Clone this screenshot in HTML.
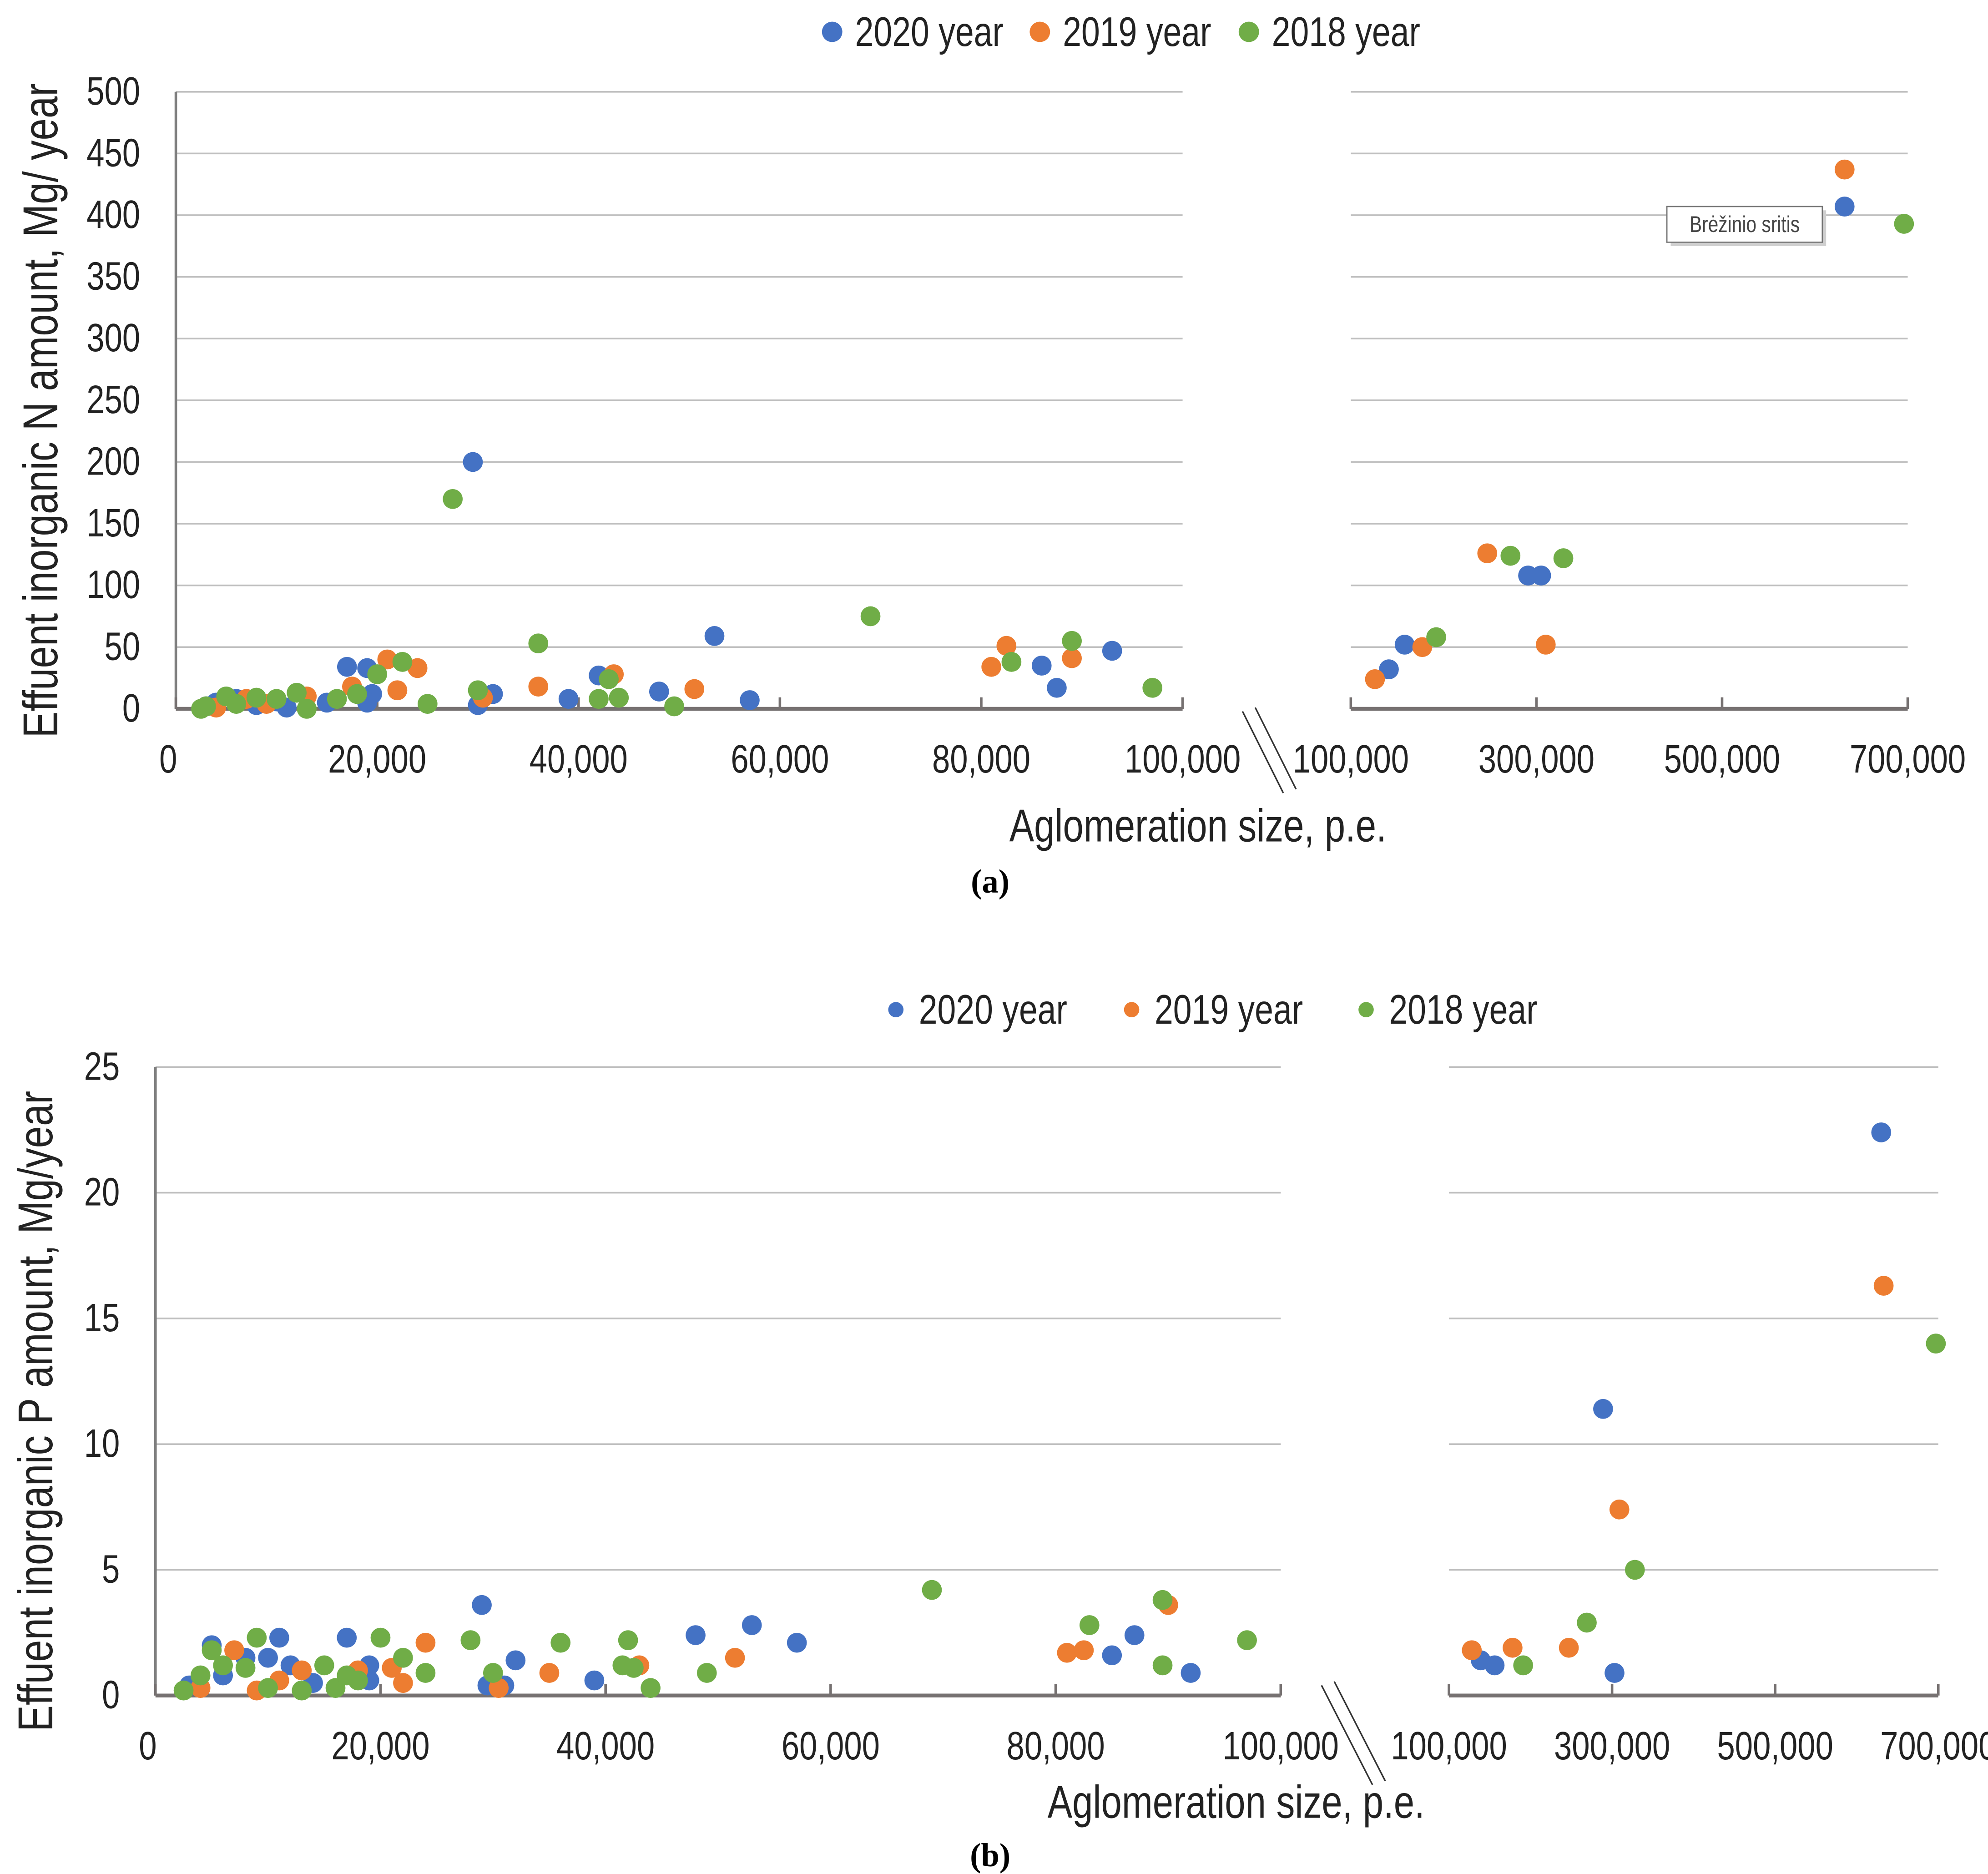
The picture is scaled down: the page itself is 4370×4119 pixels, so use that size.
<!DOCTYPE html>
<html><head><meta charset="utf-8"><style>html,body{margin:0;padding:0;background:#fff}svg{display:block}</style></head>
<body>
<svg id="chart" width="4370" height="4119" viewBox="0 0 1560 1470" preserveAspectRatio="none" xmlns="http://www.w3.org/2000/svg" font-family="'Liberation Sans', sans-serif"></svg>
<script>
// ---- data: panel (a) nitrogen, x in p.e., y in Mg/year ----
const nBlueX=[3000,4000,6000,8000,10000,11000,15000,17000,19000,19500,19000,29500,30000,31500,39000,42000,48000,53500,57000,86000,87500,93000,141000,158000,291000,305000,632000];
const nBlueY=[2,5,8,3,6,1,5,34,33,12,5,200,3,12,8,27,14,59,7,35,17,47,32,52,108,108,407];
const nOrangeX=[4000,7000,9000,13000,17500,21000,22000,24000,30500,36000,43500,51500,81000,82500,89000,126000,177000,247000,310000,632000];
const nOrangeY=[1,8,4,10,18,40,15,33,9,18,28,16,34,51,41,24,50,126,52,437];
const nGreenX=[2500,3000,5000,6000,8000,10000,12000,13000,16000,18000,20000,22500,25000,27500,30000,36000,42000,43000,44000,49500,69000,83000,89000,97000,192000,272000,329000,696000];
const nGreenY=[0,2,10,4,9,8,13,0,8,12,28,38,4,170,15,53,8,24,9,2,75,38,55,17,58,124,122,393];
// ---- data: panel (b) phosphorus ----
const pBlueX=[3000,5000,6000,8000,10000,11000,12000,14000,17000,19000,19000,29000,29500,31000,32000,39000,48000,53000,57000,85000,87000,92000,139000,156000,289000,303000,630000];
const pBlueY=[0.4,2.0,0.8,1.5,1.5,2.3,1.2,0.5,2.3,1.2,0.6,3.6,0.4,0.4,1.4,0.6,2.4,2.8,2.1,1.6,2.4,0.9,1.4,1.2,11.4,0.9,22.4];
const pOrangeX=[4000,7000,9000,11000,13000,18000,21000,22000,24000,30500,35000,43000,51500,81000,82500,90000,128000,178000,247000,309000,633000];
const pOrangeY=[0.3,1.8,0.2,0.6,1.0,1.0,1.1,0.5,2.1,0.3,0.9,1.2,1.5,1.7,1.8,3.6,1.8,1.9,1.9,7.4,16.3];
const pGreenX=[2500,4000,5000,6000,8000,9000,10000,13000,15000,16000,17000,18000,20000,22000,24000,28000,30000,36000,41500,42000,42500,44000,49000,69000,83000,89500,89500,97000,191000,269000,328000,697000];
const pGreenY=[0.2,0.8,1.8,1.2,1.1,2.3,0.3,0.2,1.2,0.3,0.8,0.6,2.3,1.5,0.9,2.2,0.9,2.1,1.2,2.2,1.1,0.3,0.9,4.2,2.8,3.8,1.2,2.2,1.2,2.9,5.0,14.0];
const leftTicks=[0,20000,40000,60000,80000,100000];
const leftTickLabels=["0","20,000","40,000","60,000","80,000","100,000"];
const rightTicks=[100000,300000,500000,700000];
const rightTickLabels=["100,000","300,000","500,000","700,000"];
const nYTicks=[0,50,100,150,200,250,300,350,400,450,500];
const pYTicks=[0,5,10,15,20,25];

const svg=document.getElementById('chart');
const NS='http://www.w3.org/2000/svg';
function mk(tag,attrs,parent){const e=document.createElementNS(NS,tag);for(const k in attrs)e.setAttribute(k,attrs[k]);(parent||svg).appendChild(e);return e;}
function txt(s,attrs,parent){const e=mk('text',attrs,parent);e.textContent=s;return e;}
function stxt(s,x,y,attrs,parent,rot){
  const a=Object.assign({x:0,y:0,transform:`translate(${x},${y})${rot?' rotate(-90)':''} scale(0.97,1.2)`},attrs);
  return txt(s,a,parent);
}
const COLORS=['#4472c4','#ed7d31','#70ad47'];
const NAMES=['2020 year','2019 year','2018 year'];

function panel(cfg){
  const g=mk('g',{});
  
  
  const yS=v=>cfg.y0+(cfg.yTop-cfg.y0)*v/cfg.yMax;
  const xL=v=>cfg.lx0+(cfg.lx1-cfg.lx0)*v/100000;
  const xR=v=>cfg.rx0+(cfg.rx1-cfg.rx0)*(v-100000)/600000;
  const xs=v=>v<=100000?xL(v):xR(v);
  cfg.yTicks.forEach((t,i)=>{
    if(i>0){
      const l1=mk('line',{x1:cfg.lx0,x2:cfg.lx1,y1:yS(t),y2:yS(t),stroke:'#bfbfbf','stroke-width':1.3},g);
      
      const l2=mk('line',{x1:cfg.rx0,x2:cfg.rx1,y1:yS(t),y2:yS(t),stroke:'#bfbfbf','stroke-width':1.3},g);
      
    }
    const tl=stxt(String(t),cfg.ylabX,yS(t)+10,{'text-anchor':'end','font-size':26,fill:'#222'},g);
    
  });
  const ya=mk('line',{x1:cfg.lx0,x2:cfg.lx0,y1:cfg.y0,y2:cfg.yTop,stroke:'#7f7f7f','stroke-width':2},g);
  
  const xa=mk('line',{x1:cfg.lx0,x2:cfg.lx1,y1:cfg.y0,y2:cfg.y0,stroke:'#767171','stroke-width':3},g);
  
  const xb=mk('line',{x1:cfg.rx0,x2:cfg.rx1,y1:cfg.y0,y2:cfg.y0,stroke:'#767171','stroke-width':3},g);
  
  leftTicks.forEach((t,i)=>{
    mk('line',{x1:xL(t),x2:xL(t),y1:cfg.y0,y2:cfg.y0-9,stroke:'#767171','stroke-width':2},g);
    const tl=stxt(leftTickLabels[i],xL(t)-(i==0?6:0),cfg.y0+50,{'text-anchor':'middle','font-size':26,fill:'#222'},g);
    
  });
  rightTicks.forEach((t,i)=>{
    mk('line',{x1:xR(t),x2:xR(t),y1:cfg.y0,y2:cfg.y0-9,stroke:'#767171','stroke-width':2},g);
    const tl=stxt(rightTickLabels[i],xR(t),cfg.y0+50,{'text-anchor':'middle','font-size':26,fill:'#222'},g);
    
  });
  const b=cfg.brk;
  mk('line',{x1:b[0],y1:b[1],x2:b[0]+b[2],y2:b[1]+b[3],stroke:'#333','stroke-width':1.2},g);
  mk('line',{x1:b[0]+10,y1:b[1]-3,x2:b[0]+10+b[2],y2:b[1]-3+b[3],stroke:'#333','stroke-width':1.2},g);
  cfg.series.forEach((s,si)=>{
    const sg=mk('g',{},g);
    
    
    s[0].forEach((xv,i)=>{
      const c=mk('circle',{cx:xs(xv),cy:yS(s[1][i]),r:7.8,fill:COLORS[si]},sg);
      
      
    });
  });
  cfg.legend.forEach((lx,i)=>{
    const lg=mk('g',{},g);
    
    
    mk('circle',{cx:lx,cy:cfg.legY,r:cfg.legR,fill:COLORS[i]},lg);
    stxt(NAMES[i],lx+18,cfg.legY+11,{'font-size':27,fill:'#222'},lg);
  });
  const yt=stxt(cfg.yTitle,cfg.yTitleX,cfg.yTitleY,{'text-anchor':'middle','font-size':32,fill:'#222'},g,true);
  
  const xt=stxt('Aglomeration size, p.e.',cfg.xTitleX,cfg.xTitleY,{'text-anchor':'middle','font-size':30,fill:'#222'},g);
  
  const cap=txt(cfg.cap,{x:777,y:cfg.capY,'text-anchor':'middle','font-size':26,'font-weight':'bold',fill:'#000','font-family':"'Liberation Serif', serif"},g);
  
  return {g,xs,yS};
}

panel({name:'panel-a-nitrogen',y0:556,yTop:72,yMax:500,yTicks:nYTicks,lx0:138,lx1:928,rx0:1060,rx1:1497,ylabX:110,
  brk:[975,558,32,64],series:[[nBlueX,nBlueY],[nOrangeX,nOrangeY],[nGreenX,nGreenY]],legend:[653,816,980],legY:25,legR:8,
  yTitle:'Effuent inorganic N amount, Mg/ year',yTitleX:45,yTitleY:322,xTitleX:940,xTitleY:660,cap:'(a)',capY:700});
panel({name:'panel-b-phosphorus',y0:1330,yTop:837,yMax:25,yTicks:pYTicks,lx0:122,lx1:1005,rx0:1137,rx1:1521,ylabX:94,
  brk:[1037,1322,40,78],series:[[pBlueX,pBlueY],[pOrangeX,pOrangeY],[pGreenX,pGreenY]],legend:[703,888,1072],legY:792,legR:6,
  yTitle:'Effuent inorganic P amount, Mg/year',yTitleX:41,yTitleY:1107,xTitleX:970,xTitleY:1426,cap:'(b)',capY:1464});
const tip=mk('g',{});


mk('rect',{x:1311,y:165,width:122,height:28,fill:'#cfcfcf'},tip);
mk('rect',{x:1308,y:162,width:122,height:28,fill:'#fff',stroke:'#767676','stroke-width':1},tip);
stxt('Brėžinio sritis',1369,182,{'text-anchor':'middle','font-size':15,fill:'#444'},tip);
</script>
</body></html>
